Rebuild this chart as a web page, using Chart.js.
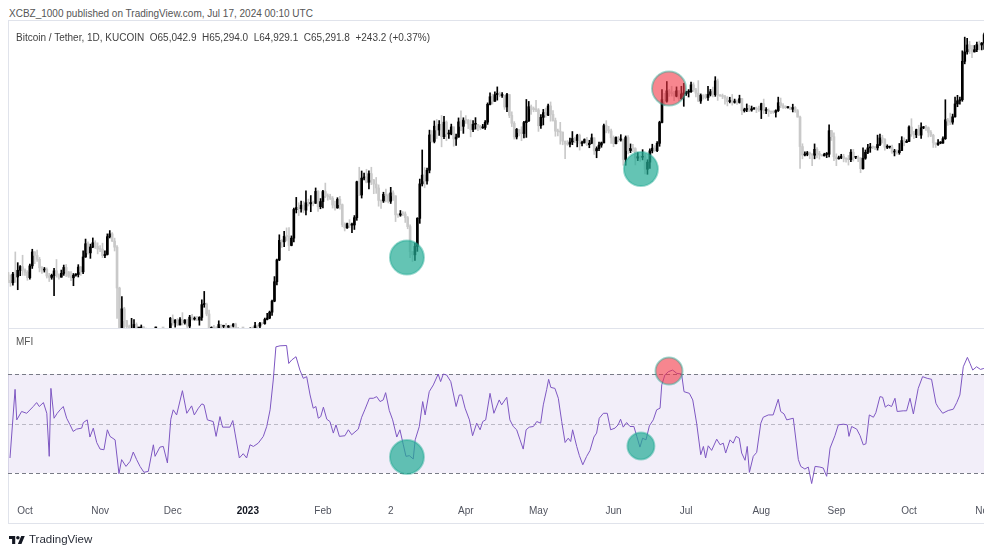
<!DOCTYPE html>
<html>
<head>
<meta charset="utf-8">
<script src="https://cdn.jsdelivr.net/npm/chart.js@4.4.1/dist/chart.umd.min.js"></script>
<style>
  html, body { margin: 0; padding: 0; background: #fff; width: 984px; height: 554px; overflow: hidden;
    font-family: "Liberation Sans", Arial, sans-serif; }
  .abs { position: absolute; }
  .line { background: #e0e3eb; }
  .txt { font-size: 10px; line-height: 12px; white-space: nowrap; color: #4a4a4a; }
  canvas { position: absolute; }
  svg { display: block; }
</style>
</head>
<body>

<div class="abs txt" style="left:9px;top:8px;color:#555;">XCBZ_1000 published on TradingView.com, Jul 17, 2024 00:10 UTC</div>

<!-- frame + pane separator -->
<div class="abs line" style="left:8px;top:20px;width:990px;height:1px;"></div>
<div class="abs line" style="left:8px;top:20px;width:1px;height:504px;"></div>
<div class="abs line" style="left:8px;top:328px;width:990px;height:1px;"></div>
<div class="abs line" style="left:8px;top:523px;width:990px;height:1px;"></div>

<canvas id="price" width="1002" height="307" style="left:8px;top:21px;"></canvas>
<canvas id="mfi" width="1002" height="194" style="left:8px;top:329px;"></canvas>

<div class="abs txt" style="left:16px;top:32px;color:#3f3f3f;">Bitcoin / Tether, 1D, KUCOIN&nbsp; O65,042.9&nbsp; H65,294.0&nbsp; L64,929.1&nbsp; C65,291.8&nbsp; +243.2 (+0.37%)</div>
<div class="abs txt" style="left:16px;top:336px;color:#555;">MFI</div>

<div class="abs" style="left:9px;top:535px;">
  <svg width="16" height="10" viewBox="0 0 36 22"><path d="M14 20H7V9H0V2h14v18zM28 20h-8l7.5-18h8L28 20z" fill="#131722"/><circle cx="20" cy="6" r="4" fill="#131722"/></svg>
</div>
<div class="abs" style="left:29px;top:532px;font-size:11.5px;line-height:14px;color:#2a2e39;">TradingView</div>

<script>
// ─── Data: BTC/USDT daily candles, Sep 24 2022 → Nov 1 2023 (prices in thousands) ───
// day 0 = Oct 1 2022; open of each day = previous close
const firstDay = -7;
const firstOpen = 19.30;

const closes = [
  18.92, 18.80, 19.22, 19.08, 19.41, 19.59, 19.42,
  19.31, 19.05, 19.63, 20.34, 20.16, 19.96, 19.53, 19.42, 19.45, 19.13, 19.06, 19.16, 19.38, 19.18, 19.07, 19.26, 19.55, 19.33, 19.12, 19.04, 19.17, 19.20, 19.57, 19.33, 20.08, 20.77, 20.29, 20.60, 20.82, 20.63, 20.49,
  20.48, 20.15, 20.21, 21.15, 21.30, 20.91, 20.59, 18.55, 15.88, 17.59, 17.07, 16.81, 16.33, 16.62, 16.90, 16.66, 16.69, 16.70, 16.68, 16.28, 15.78, 16.20, 16.60, 16.60, 16.52, 16.46, 16.44, 16.21, 16.44, 17.17,
  16.97, 17.09, 16.88, 17.11, 16.97, 17.09, 16.83, 17.22, 17.13, 17.13, 17.09, 17.21, 17.78, 17.80, 17.36, 16.63, 16.78, 16.74, 16.44, 16.90, 16.82, 16.83, 16.78, 16.84, 16.83, 16.92, 16.70, 16.55, 16.63, 16.60, 16.54,
  16.62, 16.68, 16.67, 16.85, 16.83, 16.95, 16.94, 17.12, 17.18, 17.44, 17.94, 18.85, 19.93, 20.95, 20.87, 21.17, 21.16, 20.68, 21.07, 22.67, 22.78, 22.71, 22.92, 22.63, 23.06, 23.00, 23.08, 23.03, 23.74, 22.83, 23.13,
  23.73, 23.48, 23.43, 23.33, 22.93, 22.76, 23.26, 22.95, 21.80, 21.63, 21.86, 21.78, 21.79, 22.20, 24.33, 23.52, 24.56, 24.63, 24.30, 24.84, 24.45, 24.19, 23.95, 23.20, 23.17, 23.56, 23.49, 23.15,
  23.65, 23.47, 22.36, 22.35, 22.43, 22.41, 22.20, 21.70, 20.36, 20.19, 20.63, 22.16, 24.20, 24.75, 24.38, 25.06, 27.42, 26.97, 28.04, 27.77, 28.17, 27.30, 28.33, 27.49, 27.49, 27.99, 27.14, 27.27, 28.35, 28.03, 28.48,
  28.47, 28.20, 27.80, 28.17, 28.17, 28.04, 27.92, 27.95, 28.33, 29.65, 30.23, 29.88, 30.39, 30.49, 30.32, 30.32, 29.45, 30.40, 28.82, 28.25, 27.28, 27.82, 27.59, 27.52, 28.30, 28.42, 29.47, 29.34, 29.25, 29.23,
  28.07, 28.68, 29.03, 28.85, 29.53, 28.90, 28.45, 27.69, 27.65, 27.62, 26.99, 26.80, 26.78, 26.93, 27.17, 27.03, 27.40, 26.83, 26.89, 27.10, 26.75, 26.85, 27.22, 26.33, 26.48, 26.72, 26.87, 28.08, 27.75, 27.70, 27.22,
  26.82, 27.25, 27.07, 27.12, 25.76, 27.24, 26.35, 26.50, 26.48, 25.85, 25.94, 25.90, 25.92, 25.12, 25.58, 26.33, 26.51, 26.34, 26.84, 28.31, 30.00, 29.89, 30.69, 30.55, 30.47, 30.27, 30.69, 30.08, 30.45, 30.47,
  30.59, 30.62, 31.16, 30.77, 30.51, 29.90, 30.35, 30.29, 30.17, 30.41, 30.62, 30.39, 31.48, 30.33, 30.30, 30.25, 30.14, 29.86, 29.91, 29.80, 29.90, 29.79, 30.08, 29.18, 29.23, 29.35, 29.22, 29.31, 29.35, 29.28, 29.23,
  29.70, 29.18, 29.19, 29.11, 29.08, 29.05, 29.18, 29.77, 29.56, 29.43, 29.40, 29.42, 29.28, 29.41, 29.17, 28.70, 26.62, 26.05, 26.10, 26.19, 26.12, 26.04, 26.43, 26.16, 26.05, 26.00, 26.09, 26.10, 27.72, 27.30, 25.93,
  25.80, 25.87, 25.97, 25.81, 25.78, 25.75, 26.24, 25.90, 25.90, 25.84, 25.16, 25.84, 26.23, 26.53, 26.60, 26.57, 26.53, 26.76, 27.21, 27.13, 26.57, 26.58, 26.58, 26.25, 26.30, 26.21, 26.35, 27.03, 26.91, 26.97,
  27.98, 27.50, 27.43, 27.79, 27.41, 27.93, 27.96, 27.93, 27.60, 27.40, 26.87, 26.76, 26.86, 26.86, 27.16, 28.50, 28.41, 28.33, 28.72, 29.68, 29.92, 30.00, 33.09, 33.90, 34.50, 34.16, 33.90, 34.09, 34.54, 34.50, 34.67,
  35.42,
];

const highs = [
  19.31, 19.18, 19.31, 20.34, 19.79, 19.64, 20.17,
  19.48, 19.39, 19.72, 20.48, 20.36, 20.44, 20.06, 19.60, 19.55, 19.53, 19.26, 19.22, 19.51, 19.95, 19.23, 19.42, 19.67, 19.70, 19.35, 19.35, 19.25, 19.25, 19.69, 19.60, 20.40, 21.02, 20.87, 20.75, 21.08, 20.93, 20.82,
  20.67, 20.80, 20.40, 21.30, 21.48, 21.37, 21.07, 20.67, 18.59, 18.15, 17.66, 17.08, 16.88, 17.17, 17.11, 16.97, 16.73, 16.88, 16.81, 16.75, 16.29, 16.28, 16.69, 16.79, 16.61, 16.67, 16.59, 16.48, 16.53, 17.21,
  17.32, 17.11, 17.16, 17.20, 17.42, 17.11, 17.13, 17.30, 17.35, 17.23, 17.26, 17.24, 18.00, 18.39, 17.85, 17.53, 16.80, 16.86, 16.81, 17.06, 16.91, 16.87, 16.95, 16.86, 16.86, 16.94, 16.96, 16.78, 16.66, 16.64, 16.65,
  16.63, 16.76, 16.77, 16.99, 16.88, 16.99, 16.97, 17.18, 17.39, 17.49, 17.99, 19.10, 19.97, 21.25, 20.99, 21.44, 21.63, 21.65, 21.19, 22.75, 23.38, 23.06, 23.16, 23.15, 23.78, 23.28, 23.49, 23.16, 23.95, 23.79, 23.31,
  23.81, 24.25, 23.59, 23.57, 23.43, 23.16, 23.36, 23.45, 22.99, 21.91, 21.89, 22.09, 21.89, 22.32, 24.37, 25.25, 25.01, 24.87, 25.12, 25.02, 25.25, 24.48, 24.60, 24.14, 23.21, 23.69, 23.88, 23.59,
  23.99, 23.78, 23.48, 22.41, 22.61, 22.55, 22.53, 22.27, 21.80, 20.30, 20.80, 22.20, 24.50, 26.39, 25.23, 25.19, 27.76, 27.72, 28.42, 28.53, 28.44, 28.82, 28.76, 28.42, 27.77, 28.19, 27.99, 27.49, 28.64, 29.16, 28.65,
  28.81, 28.53, 28.49, 28.44, 28.66, 28.18, 28.10, 28.17, 28.45, 29.76, 30.53, 30.43, 30.62, 31.00, 30.60, 30.55, 30.32, 30.49, 30.41, 29.09, 28.37, 27.88, 27.82, 28.00, 28.39, 30.02, 29.87, 29.60, 29.45, 29.95,
  29.33, 28.88, 29.27, 29.37, 29.67, 29.83, 29.18, 28.63, 27.83, 28.32, 27.63, 26.99, 27.03, 27.20, 27.66, 27.27, 27.47, 27.48, 26.99, 27.15, 27.26, 27.05, 27.49, 27.21, 26.60, 26.92, 26.93, 28.19, 28.44, 28.03, 27.84,
  27.35, 27.29, 27.32, 27.44, 27.13, 27.35, 27.37, 26.80, 26.77, 26.54, 26.21, 26.00, 26.41, 26.08, 25.74, 26.47, 26.78, 26.68, 26.96, 28.40, 30.79, 30.50, 31.43, 30.80, 31.05, 30.66, 31.00, 30.70, 31.05, 31.28,
  30.66, 30.79, 31.38, 31.33, 30.88, 31.50, 30.45, 30.38, 30.43, 31.05, 30.80, 30.99, 31.82, 31.63, 30.40, 30.44, 30.34, 30.24, 30.19, 30.41, 30.05, 29.99, 30.35, 30.10, 29.36, 29.68, 29.57, 29.52, 29.41, 29.45, 29.52,
  29.74, 30.05, 29.41, 29.31, 29.12, 29.17, 29.24, 30.20, 30.13, 29.70, 29.54, 29.48, 29.45, 29.66, 29.48, 29.26, 28.78, 26.81, 26.26, 26.29, 26.25, 26.13, 26.80, 26.55, 26.30, 26.08, 26.17, 26.22, 28.14, 27.75, 27.57,
  26.13, 25.98, 26.10, 26.10, 25.86, 26.02, 26.41, 26.43, 25.94, 25.99, 25.88, 26.54, 26.39, 26.78, 26.84, 26.66, 26.62, 27.41, 27.49, 27.39, 27.16, 26.74, 26.64, 26.72, 26.43, 26.39, 26.83, 27.30, 27.22, 27.09,
  28.06, 28.58, 27.67, 27.83, 28.11, 28.29, 28.02, 28.10, 27.99, 27.73, 27.47, 26.82, 27.10, 26.96, 27.29, 30.00, 28.61, 28.99, 28.92, 30.21, 30.34, 30.20, 33.99, 35.20, 35.10, 34.82, 34.47, 34.46, 34.75, 34.85, 34.72,
  35.57,
];

const lows = [
  18.81, 18.63, 18.68, 18.82, 18.47, 19.15, 19.16,
  19.16, 18.92, 18.97, 19.50, 19.74, 19.86, 19.33, 19.26, 19.32, 19.03, 18.86, 18.97, 18.19, 19.07, 18.97, 19.07, 19.16, 19.10, 19.06, 18.90, 18.66, 19.12, 19.08, 19.16, 19.24, 20.06, 20.22, 20.01, 20.56, 20.52, 20.24,
  20.35, 20.05, 20.04, 20.18, 21.08, 20.89, 20.39, 17.17, 15.59, 15.75, 16.36, 16.63, 16.27, 15.82, 16.54, 16.43, 16.40, 16.56, 16.55, 16.25, 15.48, 15.62, 16.17, 16.46, 16.36, 16.40, 16.41, 16.00, 16.11, 16.43,
  16.87, 16.79, 16.86, 16.88, 16.88, 16.91, 16.68, 16.74, 17.09, 17.09, 17.07, 16.87, 17.08, 17.66, 17.28, 16.55, 16.59, 16.67, 16.27, 16.40, 16.74, 16.59, 16.76, 16.78, 16.73, 16.79, 16.59, 16.47, 16.51, 16.33, 16.49,
  16.50, 16.55, 16.62, 16.66, 16.75, 16.73, 16.91, 16.91, 17.10, 17.15, 17.30, 17.91, 18.70, 19.89, 20.57, 20.61, 20.92, 20.41, 20.66, 20.87, 22.47, 22.32, 22.52, 22.47, 22.35, 22.87, 22.54, 22.88, 23.02, 22.55, 22.71,
  22.76, 23.36, 23.21, 23.25, 22.75, 22.63, 22.74, 22.68, 21.69, 21.46, 21.60, 21.64, 21.36, 21.54, 22.05, 23.50, 23.34, 24.45, 24.26, 23.89, 24.15, 23.60, 23.62, 22.86, 22.73, 23.08, 23.11, 23.05,
  23.02, 23.20, 21.98, 22.21, 22.28, 22.32, 21.93, 21.58, 20.05, 19.85, 19.90, 20.37, 21.88, 24.07, 23.96, 24.19, 24.89, 26.92, 26.87, 27.17, 27.38, 26.60, 27.16, 27.02, 27.18, 27.43, 26.64, 26.69, 27.26, 27.72, 27.53,
  28.24, 27.87, 27.29, 27.66, 27.83, 27.73, 27.79, 27.88, 27.81, 28.17, 29.61, 29.67, 29.87, 29.97, 30.23, 30.17, 29.27, 29.10, 28.66, 28.01, 27.13, 27.14, 27.35, 27.02, 27.21, 27.25, 28.38, 28.90, 29.09, 29.10,
  27.67, 27.88, 28.13, 28.69, 28.81, 28.40, 28.40, 27.33, 27.36, 26.78, 26.74, 25.81, 26.70, 26.60, 26.75, 26.88, 26.60, 26.38, 26.67, 26.85, 26.68, 26.54, 26.81, 26.09, 25.87, 26.34, 26.57, 26.86, 27.57, 27.55, 26.84,
  26.61, 26.80, 26.95, 26.99, 25.38, 25.38, 26.13, 26.21, 26.28, 25.40, 25.68, 25.63, 25.73, 24.83, 24.80, 25.18, 26.19, 26.30, 26.27, 26.64, 28.27, 29.54, 29.81, 30.26, 30.28, 29.92, 30.22, 29.91, 30.04, 29.50,
  30.33, 30.21, 30.57, 30.64, 30.21, 29.85, 29.72, 30.05, 30.07, 29.95, 30.29, 30.21, 30.26, 29.95, 30.26, 30.08, 29.66, 29.53, 29.76, 29.59, 29.74, 29.64, 29.74, 28.87, 29.07, 29.10, 29.10, 29.13, 29.26, 29.03, 29.11,
  28.59, 28.96, 28.96, 28.75, 28.96, 28.97, 28.70, 29.11, 29.40, 29.35, 29.33, 29.37, 29.26, 29.08, 29.05, 28.70, 25.17, 25.80, 25.99, 26.00, 25.81, 25.35, 25.80, 25.86, 25.78, 25.98, 25.98, 25.88, 25.92, 27.04, 25.67,
  25.35, 25.78, 25.81, 25.60, 25.58, 25.39, 25.61, 25.65, 25.81, 25.61, 24.90, 25.13, 25.77, 26.14, 26.23, 26.47, 26.41, 26.38, 26.68, 26.86, 26.37, 26.48, 26.51, 26.16, 25.99, 26.10, 26.10, 26.34, 26.67, 26.89,
  26.95, 27.32, 27.16, 27.23, 27.37, 27.18, 27.86, 27.74, 27.28, 27.30, 26.56, 26.56, 26.70, 26.81, 26.84, 27.11, 28.10, 28.15, 28.18, 28.69, 29.47, 29.67, 29.88, 32.88, 33.70, 33.75, 33.40, 33.88, 33.92, 34.07, 34.07,
  34.12,
];

// MFI(14) line (day, value)
const mfiDays = [
  -6.2, -4.1, -3.4, -1.4, 0.7, 3.4, 4.8, 5.9, 7.6, 9.0,
  10.0, 10.7, 12.0, 13.3, 14.5, 15.8, 17.2, 18.6, 19.9, 21.3,
  23.4, 24.1, 25.7, 26.8, 28.2, 29.6, 31.0, 32.6, 34.0, 35.1,
  37.2, 38.8, 39.9, 41.7, 43.4, 44.7, 46.1, 47.5, 49.1, 50.9,
  53.0, 53.7, 55.7, 57.1, 58.8, 60.2, 61.2, 62.6, 65.0, 66.8,
  68.8, 69.9, 71.6, 73.0, 73.9, 75.3, 77.7, 78.9, 80.5, 81.6,
  84.6, 85.8, 86.7, 88.5, 90.1, 91.5, 92.9, 94.3, 96.3, 98.4,
  99.8, 101.2, 102.5, 103.6, 105.3, 108.0, 108.9, 110.1, 111.9, 113.5,
  114.9, 116.3, 117.7, 119.0, 120.1, 121.1, 122.1, 123.2, 124.6, 125.9,
  127.3, 128.4, 129.8, 132.1, 133.5, 134.9, 137.6, 139.0, 140.4, 142.2,
  143.8, 145.2, 146.6, 147.9, 148.9, 150.4, 151.8, 153.5, 154.8, 156.2,
  157.3, 158.7, 160.3, 161.1, 162.8, 164.2, 165.2, 166.9, 168.6, 170.6,
  171.6, 172.7, 174.1, 175.8, 178.0, 179.3, 180.3, 181.7, 183.5, 184.8,
  186.5, 187.9, 189.0, 190.2, 192.0, 193.6,
  195.8, 196.8, 198.9, 200.2, 201.6, 203.0, 204.4, 205.7, 206.9, 208.2,
  209.9, 211.3, 212.9, 214.0, 215.4, 216.2, 217.1, 218.8, 220.2, 221.6,
  223.0, 224.3, 225.3, 226.1, 227.8, 228.9, 230.3, 231.9, 233.3, 234.9,
  236.0, 237.1, 238.8, 240.4, 241.8, 243.6, 244.9, 245.9, 247.0, 248.4,
  249.8, 251.4, 252.6, 253.9, 255.0, 256.4, 257.8, 259.4, 260.8, 262.2,
  262.9, 264.2, 265.6, 267.4, 269.1, 271.1, 272.1, 274.3, 275.7, 277.3,
  279.0, 280.1, 281.0, 282.1, 283.5, 285.6, 287.0, 288.3, 289.3, 291.1,
  292.4, 293.6, 294.9, 295.9, 297.3, 298.2, 299.1, 300.7, 302.1, 303.8,
  304.8, 306.9, 308.9, 311.0, 312.0, 313.4, 314.5, 317.2, 319.3, 320.3,
  322.0, 323.4, 324.8, 326.2, 328.2, 329.6, 330.3, 331.0, 332.4, 334.4,
  335.8, 337.9, 339.5, 340.2, 341.3, 343.4, 344.8, 346.1, 347.2, 348.6,
  350.3, 351.3, 353.0, 354.1, 355.2, 356.4, 357.8, 359.2, 360.1, 362.6,
  364.0, 365.4, 366.8, 368.8, 370.6, 372.5, 374.3, 376.1, 377.0, 378.9,
  381.2, 383.3, 384.7, 386.0, 387.4, 389.1, 390.2, 391.3, 392.9, 394.5, 395.9,
];

const mfiValues = [
  29.1, 70.7, 52.2, 57.3, 56.2, 60.3, 62.7, 60.3, 62.7, 56.2,
  30.1, 71.3, 53.2, 56.2, 58.3, 60.3, 53.2, 49.2, 45.2, 46.6,
  47.2, 50.6, 52.2, 41.8, 47.2, 38.5, 34.5, 34.1, 46.2, 42.2,
  40.1, 19.6, 28.1, 24.0, 27.1, 32.7, 28.1, 24.0, 20.4, 21.0,
  37.1, 30.1, 35.7, 36.1, 26.1, 52.6, 58.3, 55.2, 69.9, 56.2,
  60.7, 55.2, 59.3, 61.9, 61.3, 52.2, 51.2, 42.2, 54.2, 47.8,
  47.8, 51.8, 44.2, 29.1, 31.7, 29.1, 37.1, 36.1, 38.1, 42.2,
  48.2, 58.3, 76.4, 96.5, 97.1, 97.3, 86.4, 88.5, 90.5, 82.4,
  77.4, 78.4, 67.3, 59.3, 60.3, 53.2, 54.2, 59.9, 52.6, 51.2,
  44.2, 49.2, 42.2, 42.6, 46.2, 43.2, 46.6, 53.8, 58.7, 65.3,
  65.3, 66.3, 63.3, 64.3, 68.7, 57.9, 52.2, 41.8, 46.2, 37.1,
  30.1, 30.5, 28.5, 40.1, 48.2, 63.3, 55.2, 69.3, 73.4, 80.0,
  75.4, 80.0, 79.4, 75.4, 60.3, 67.3, 67.3, 59.3, 52.2, 42.6,
  50.2, 46.2, 51.2, 52.2, 68.3, 56.2,
  64.3, 61.3, 65.9, 52.2, 48.2, 46.2, 40.1, 34.5, 46.2, 47.8,
  48.2, 51.2, 50.2, 61.3, 70.7, 76.8, 71.9, 71.3, 65.3, 51.2,
  38.5, 41.1, 39.1, 46.2, 36.1, 30.5, 25.0, 30.1, 33.7, 41.8,
  44.2, 53.2, 56.2, 56.2, 46.2, 47.2, 49.2, 52.6, 47.8, 50.6,
  48.2, 48.2, 42.2, 35.7, 41.1, 40.1, 48.6, 52.2, 58.3, 59.3,
  73.4, 79.4, 81.4, 82.4, 80.4, 80.0, 69.3, 68.3, 64.3, 50.2,
  31.1, 36.1, 29.1, 36.5, 33.7, 40.5, 37.1, 38.1, 32.1, 40.1,
  38.1, 42.2, 41.1, 32.1, 27.7, 36.1, 20.4, 30.1, 32.5, 50.2,
  53.8, 55.2, 55.2, 64.7, 57.3, 55.8, 52.2, 53.2, 28.1, 24.0,
  22.4, 23.6, 13.6, 24.0, 23.6, 23.0, 20.4, 18.0, 35.1, 42.6,
  49.2, 49.6, 49.2, 42.2, 48.2, 46.6, 42.6, 37.1, 37.7, 55.2,
  53.8, 56.6, 66.3, 65.9, 59.9, 61.3, 60.3, 65.3, 57.3, 57.7,
  57.7, 65.3, 55.8, 71.3, 78.4, 77.4, 76.8, 62.3, 59.9, 56.2,
  57.9, 58.7, 62.7, 67.3, 84.4, 90.1, 86.4, 82.4, 84.4, 82.8, 83.4,
];

const mfiLevels = [80, 50, 20];

// Marked signals (circles drawn on the chart)
const signalDays   = [157.7, 254.3, 265.9];
const signalPrices = [20.05, 25.13, 30.87];
const signalMfi    = [29.7, 36.4, 81.8];
const signalKinds  = ['buy', 'buy', 'sell'];

// Time axis
const tickDays   = [0, 31, 61, 92, 123, 151, 182, 212, 243, 273, 304, 335, 365, 396];
const tickLabels = ['Oct', 'Nov', 'Dec', '2023', 'Feb', '2', 'Apr', 'May', 'Jun', 'Jul', 'Aug', 'Sep', 'Oct', 'Nov'];

// ─── Layout constants ───
const X_MIN = -7.02, X_MAX = 406.69;   // visible day range across the canvas
const PRICE_MIN = 16.75, PRICE_MAX = 36.68;
const MFI_MIN = 5.45, MFI_MAX = 107.3;

const UP = '#000000';
const DOWN = '#c9c9c9';
const FILL = { buy: 'rgba(34,171,148,0.70)', sell: 'rgba(242,54,69,0.60)' };
const RING = 'rgba(34,171,148,0.45)';

// ─── Build candles ───
const wicks = [], bodies = [];
closes.forEach((c, i) => {
  const o = i === 0 ? firstOpen : closes[i - 1];
  const d = firstDay + i;
  const up = c >= o;
  wicks.push({ x: d, y: [Math.min(lows[i], o, c), Math.max(highs[i], o, c)], up });
  bodies.push({ x: d, y: [Math.min(o, c), Math.max(o, c)], up });
});

const signalPricePts = signalDays.map((d, i) => ({ x: d, y: signalPrices[i] }));
const signalMfiPts = signalDays.map((d, i) => ({ x: d, y: signalMfi[i] }));
const mfiPts = mfiDays.map((d, i) => ({ x: d, y: mfiValues[i] }));
const signalFills = signalKinds.map(k => FILL[k]);

const noChrome = {
  responsive: false,
  animation: false,
  events: [],
  layout: { padding: 0, autoPadding: false },
  plugins: { legend: { display: false }, tooltip: { enabled: false } },
};

// ─── Price pane ───
new Chart(document.getElementById('price'), {
  type: 'bar',
  data: {
    datasets: [
      {
        type: 'line', data: signalPricePts, showLine: false, order: 0,
        pointRadius: 17, pointBackgroundColor: signalFills,
        pointBorderColor: RING, pointBorderWidth: 2,
      },
      {
        data: bodies, order: 1, grouped: false, barThickness: 2, maxBarThickness: 2,
        minBarLength: 1, borderWidth: 0,
        backgroundColor: ctx => (ctx.raw && ctx.raw.up ? UP : DOWN),
      },
      {
        data: wicks, order: 2, grouped: false, barThickness: 1, maxBarThickness: 1,
        borderWidth: 0,
        backgroundColor: ctx => (ctx.raw && ctx.raw.up ? UP : DOWN),
      },
    ],
  },
  options: {
    ...noChrome,
    scales: {
      x: { type: 'linear', min: X_MIN, max: X_MAX, offset: false, display: false },
      y: { type: 'logarithmic', min: PRICE_MIN, max: PRICE_MAX, display: false, beginAtZero: false },
    },
  },
});

// ─── MFI pane ───
const mfiBand = {
  id: 'mfiBand',
  beforeDatasetsDraw(chart) {
    const { ctx, chartArea: a, scales: { y } } = chart;
    const top = y.getPixelForValue(mfiLevels[0]);
    const bot = y.getPixelForValue(mfiLevels[2]);
    ctx.save();
    ctx.fillStyle = 'rgba(126,87,194,0.10)';
    ctx.fillRect(a.left, top, a.right - a.left, bot - top);
    ctx.lineWidth = 1;
    ctx.setLineDash([4, 3]);
    mfiLevels.forEach((lv, i) => {
      const py = Math.round(y.getPixelForValue(lv)) + 0.5;
      ctx.strokeStyle = i === 1 ? 'rgba(120,123,134,0.45)' : '#787b86';
      ctx.beginPath();
      ctx.moveTo(a.left, py);
      ctx.lineTo(a.right, py);
      ctx.stroke();
    });
    ctx.restore();
  },
};

new Chart(document.getElementById('mfi'), {
  type: 'line',
  data: {
    datasets: [
      {
        data: signalMfiPts, showLine: false, order: 0,
        pointRadius: [17, 13.5, 13.5], pointBackgroundColor: signalFills,
        pointBorderColor: RING, pointBorderWidth: 2,
      },
      {
        data: mfiPts, order: 1, borderColor: '#7e57c2', borderWidth: 1,
        pointRadius: 0, tension: 0, fill: false,
      },
    ],
  },
  options: {
    ...noChrome,
    scales: {
      x: {
        type: 'linear', min: X_MIN, max: X_MAX, offset: false,
        grid: { display: false, drawTicks: false },
        border: { display: false },
        afterBuildTicks: s => { s.ticks = tickDays.map(v => ({ value: v })); },
        afterFit: s => { s.height = 26; },
        ticks: {
          autoSkip: false, maxRotation: 0, padding: 8,
          color: ctx => (ctx.tick && ctx.tick.label === '2023' ? '#131722' : '#50535e'),
          font: ctx => ({
            family: '"Liberation Sans", Arial, sans-serif', size: 10,
            weight: ctx.tick && ctx.tick.label === '2023' ? 'bold' : 'normal',
          }),
          callback: (v, i) => tickLabels[i],
        },
      },
      y: { min: MFI_MIN, max: MFI_MAX, display: false },
    },
  },
  plugins: [mfiBand],
});
</script>
</body>
</html>
